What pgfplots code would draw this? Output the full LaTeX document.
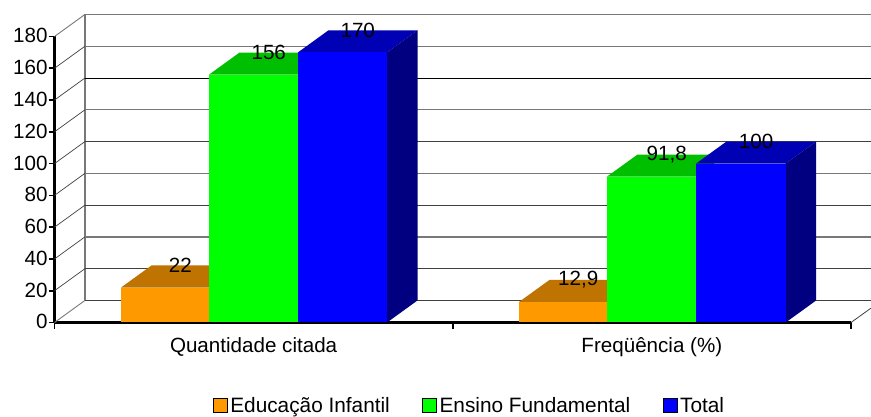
\documentclass[border=0pt]{standalone}
\usepackage{pgfplots}
\usepackage{fontspec}
\setmainfont{Liberation Sans}
\pgfplotsset{compat=1.18}
\definecolor{wallgray}{HTML}{787878}
\definecolor{sidegray}{HTML}{404040}
\definecolor{oranF}{HTML}{FF9900}
\definecolor{oranT}{HTML}{BF7300}
\definecolor{greenF}{HTML}{00FF00}
\definecolor{greenT}{HTML}{00BF00}
\definecolor{blueF}{HTML}{0000FF}
\definecolor{blueT}{HTML}{0000B4}
\definecolor{blueS}{HTML}{000080}
\begin{document}
\begin{tikzpicture}[x=1pt,y=1pt]
\path[use as bounding box] (0,0) rectangle (871,417);
\begin{axis}[
  at={(54.5pt,94.5pt)}, anchor=origin,
  scale only axis, width=796.5pt, height=286pt,
  xmin=0, xmax=2, ymin=0, ymax=180,
  clip=false,
  axis x line=bottom, axis y line=left,
  axis line style={-, line width=2.2pt, black},
  tick style={line width=1.7pt, black},
  xtick={0.5,1.5}, xticklabels={Quantidade citada,Freqüência (\%)},
  major x tick style={draw=none},
  minor xtick={0,1,2}, minor tick length=6.5pt,
  every minor tick/.append style={line width=1.7pt, black},
  ytick={0,20,...,180},
  major tick length=6pt,
  tick align=outside,
  /pgf/number format/assume math mode=true,
  tick label style={font=\fontsize{20.6}{24}\selectfont},
  yticklabel style={inner sep=0pt, xshift=-0.8pt, yshift=0.6pt},
  xticklabel style={inner sep=0pt, yshift=-9pt},
  legend cell align=left,
  legend image code/.code={\fill[#1] (0pt,-6.2pt) rectangle (14pt,7.8pt);},
  legend style={
    draw=none, fill=none, inner sep=0pt, outer sep=0pt,
    at={(axis cs:0.3983,-47.2)}, anchor=north west,
    legend columns=3,
    font=\fontsize{20.8}{24}\selectfont,
    nodes={inner sep=0pt, outer sep=0pt},
    /tikz/every odd column/.append style={column sep=2.8pt},
    /tikz/every even column/.append style={column sep=32.5pt},
  },
  nodes near coords style={anchor=center, inner sep=0pt, font=\fontsize{20.6}{24}\selectfont},
]
\addlegendimage{fill=oranF}
\addlegendentry{Educação Infantil}
\addlegendimage{fill=greenF}
\addlegendentry{Ensino Fundamental}
\addlegendimage{fill=blueF}
\addlegendentry{Total}

% side wall: left edge, and the diagonals running back from each tick
\addplot[forget plot, wallgray, line width=1.4pt] coordinates {(0.0766,13.9)(0.0766,193.9)};
\addplot[forget plot, wallgray, line width=0.9pt] coordinates {(0,0)(0.0766,13.9)};
\addplot[forget plot, sidegray, line width=0.7pt] coordinates {(0,20)(0.0766,33.9)};
\addplot[forget plot, sidegray, line width=0.7pt] coordinates {(0,40)(0.0766,53.9)};
\addplot[forget plot, sidegray, line width=0.7pt] coordinates {(0,60)(0.0766,73.9)};
\addplot[forget plot, sidegray, line width=0.7pt] coordinates {(0,80)(0.0766,93.9)};
\addplot[forget plot, sidegray, line width=0.7pt] coordinates {(0,100)(0.0766,113.9)};
\addplot[forget plot, sidegray, line width=0.7pt] coordinates {(0,120)(0.0766,133.9)};
\addplot[forget plot, sidegray, line width=0.7pt] coordinates {(0,140)(0.0766,153.9)};
\addplot[forget plot, sidegray, line width=0.7pt] coordinates {(0,160)(0.0766,173.9)};
\addplot[forget plot, wallgray, line width=0.9pt] coordinates {(0,180)(0.0766,193.9)};
\addplot[forget plot, sidegray, line width=0.8pt] coordinates {(2,0)(2.05,9)};

% back wall gridlines
\addplot[forget plot, sidegray, line width=1.3pt] coordinates {(0.0766,13.9)(2.05,13.9)};
\addplot[forget plot, sidegray, line width=0.8pt] coordinates {(0.0766,33.9)(2.05,33.9)};
\addplot[forget plot, wallgray, line width=1.3pt] coordinates {(0.0766,53.9)(2.05,53.9)};
\addplot[forget plot, sidegray, line width=1pt] coordinates {(0.0766,73.9)(2.05,73.9)};
\addplot[forget plot, wallgray, line width=1.2pt] coordinates {(0.0766,93.9)(2.05,93.9)};
\addplot[forget plot, sidegray, line width=0.8pt] coordinates {(0.0766,113.9)(2.05,113.9)};
\addplot[forget plot, wallgray, line width=1.2pt] coordinates {(0.0766,133.9)(2.05,133.9)};
\addplot[forget plot, black, line width=0.7pt] coordinates {(0.0766,153.9)(2.05,153.9)};
\addplot[forget plot, wallgray, line width=1.1pt] coordinates {(0.0766,173.9)(2.05,173.9)};
\addplot[forget plot, wallgray, line width=1.2pt] coordinates {(0.0766,193.9)(2.05,193.9)};

% Quantidade citada
\addplot[forget plot, fill=oranT, draw=none] coordinates {(0.167,22)(0.388,22)(0.4646,35.9)(0.2436,35.9)} --cycle;
\addplot[forget plot, fill=oranF, draw=none] coordinates {(0.167,0)(0.388,0)(0.388,22)(0.167,22)} --cycle;
\addplot[forget plot, fill=greenT, draw=none] coordinates {(0.388,156)(0.6114,156)(0.688,169.9)(0.4646,169.9)} --cycle;
\addplot[forget plot, fill=greenF, draw=none] coordinates {(0.388,0)(0.6114,0)(0.6114,156)(0.388,156)} --cycle;
\addplot[forget plot, fill=blueT, draw=none] coordinates {(0.6114,170)(0.835,170)(0.9116,183.9)(0.688,183.9)} --cycle;
\addplot[forget plot, fill=blueS, draw=none] coordinates {(0.835,0)(0.9116,13.9)(0.9116,183.9)(0.835,170)} --cycle;
\addplot[forget plot, fill=blueF, draw=none] coordinates {(0.6114,0)(0.835,0)(0.835,170)(0.6114,170)} --cycle;

% Frequencia (%)
\addplot[forget plot, fill=oranT, draw=none] coordinates {(1.1663,12.9)(1.3873,12.9)(1.4639,26.8)(1.2429,26.8)} --cycle;
\addplot[forget plot, fill=oranF, draw=none] coordinates {(1.1663,0)(1.3873,0)(1.3873,12.9)(1.1663,12.9)} --cycle;
\addplot[forget plot, fill=greenT, draw=none] coordinates {(1.3873,91.8)(1.6108,91.8)(1.6874,105.7)(1.4639,105.7)} --cycle;
\addplot[forget plot, fill=greenF, draw=none] coordinates {(1.3873,0)(1.6108,0)(1.6108,91.8)(1.3873,91.8)} --cycle;
\addplot[forget plot, fill=blueT, draw=none] coordinates {(1.6108,100)(1.836,100)(1.9126,113.9)(1.6874,113.9)} --cycle;
\addplot[forget plot, fill=blueS, draw=none] coordinates {(1.836,0)(1.9126,13.9)(1.9126,113.9)(1.836,100)} --cycle;
\addplot[forget plot, fill=blueF, draw=none] coordinates {(1.6108,0)(1.836,0)(1.836,100)(1.6108,100)} --cycle;

% value labels sit on the back edge of each bar's top face
\addplot[forget plot, draw=none, mark=none, nodes near coords, point meta=explicit symbolic]
  coordinates {
    (0.3158,35.9)[22]
    (0.5380,169.9)[156]
    (0.7615,183.9)[170]
    (1.3151,26.8)[12,9]
    (1.5373,105.7)[91,8]
    (1.7617,113.9)[100]
  };
\end{axis}
\end{tikzpicture}
\end{document}
